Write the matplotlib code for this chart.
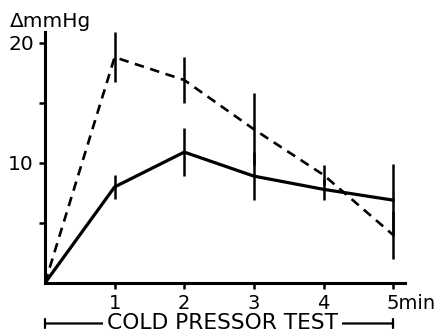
import matplotlib
matplotlib.use("Agg")
from matplotlib import pyplot as plt
from matplotlib.transforms import ScaledTranslation

minutes = [0, 1, 2, 3, 4, 5]

solid_vals = [0, 8.0, 10.9, 8.9, 7.8, 6.9]
solid_err = [0, 1.0, 2.0, 2.0, 0.9, 3.0]

dashed_vals = [0, 18.8, 16.9, 12.8, 9.0, 4.0]
dashed_err = [0, 2.1, 1.9, 3.0, 0.8, 2.0]

x_ticks = [1, 2, 3, 4, 5]
x_labels = ["1", "2", "3", "4", "5min"]

TICK_FS = 14
plt.rcParams["font.family"] = "DejaVu Sans"

fig = plt.figure(figsize=(4.38, 3.36), dpi=100)
ax = fig.add_axes([0.1027, 0.1577, 0.822, 0.747])

ax.plot(minutes, solid_vals, color="black", lw=2.3, solid_joinstyle="miter")
ax.plot(minutes, dashed_vals, color="black", lw=1.9, dashes=(3.6, 2.5))

# error bars (no caps), skip the origin
ax.errorbar(minutes[1:], solid_vals[1:], yerr=solid_err[1:], fmt="none",
            ecolor="black", elinewidth=1.8, capsize=0)
ax.errorbar(minutes[1:], dashed_vals[1:], yerr=dashed_err[1:], fmt="none",
            ecolor="black", elinewidth=1.8, capsize=0)

ax.set_xlim(0, 5.17)
ax.set_ylim(0, 20.9)

for side in ["top", "right"]:
    ax.spines[side].set_visible(False)
for side in ["left", "bottom"]:
    ax.spines[side].set_linewidth(2.2)

ax.set_xticks(x_ticks)
ax.set_xticklabels(x_labels)
ax.set_yticks([10, 20])
ax.set_yticks([5, 15], minor=True)
ax.tick_params(axis="both", which="both", direction="out", width=1.8,
               length=4, labelsize=TICK_FS, pad=4)
ax.tick_params(axis="y", labelsize=14.5)
ax.tick_params(axis="y", which="minor", labelleft=False)

# keep the "5" of "5min" centred on its tick
lbl = ax.get_xticklabels()[-1]
lbl.set_horizontalalignment("left")
lbl.set_transform(lbl.get_transform()
                  + ScaledTranslation(-0.32 * TICK_FS / 72, 0,
                                      fig.dpi_scale_trans))

ax.text(-0.50, 21.33, "ΔmmHg", fontsize=14.5, ha="left", va="baseline",
        clip_on=False)

# bracket for the test period
ax.annotate("", xy=(0, -3.37), xytext=(5, -3.37), xycoords="data",
            arrowprops=dict(arrowstyle="|-|, widthA=0.3, widthB=0.3",
                            lw=1.6, color="black", shrinkA=0, shrinkB=0),
            annotation_clip=False)
ax.text(2.55, -3.37, "COLD PRESSOR TEST", fontsize=15.7, ha="center",
        va="center", clip_on=False,
        bbox=dict(facecolor="white", edgecolor="none", pad=3))

fig.savefig("out.png", dpi=100)
